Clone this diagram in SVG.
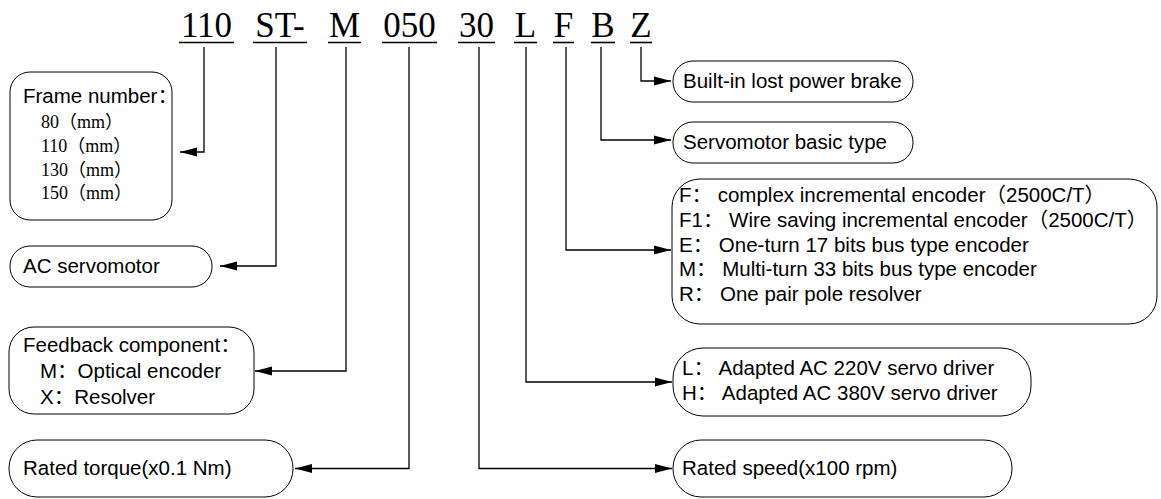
<svg xmlns="http://www.w3.org/2000/svg" width="1161" height="499" viewBox="0 0 1161 499">
<style>
.sans{font-family:"Liberation Sans","Noto Sans CJK SC",sans-serif;font-size:20.5px;fill:#000}
.ser{font-family:"Liberation Serif","Noto Sans CJK SC",serif;font-size:18px;fill:#000}
.code{font-family:"Liberation Serif",serif;font-size:35px;fill:#000;text-anchor:middle}
.box{fill:#fff;stroke:#000;stroke-width:1}
.conn{fill:none;stroke:#000;stroke-width:1.3}
.ul{stroke:#000;stroke-width:1.6}
</style>
<defs>
<marker id="arr" markerUnits="userSpaceOnUse" markerWidth="17" markerHeight="10" viewBox="0 0 17 10" refX="17" refY="5" orient="auto">
<path d="M0,0.5 L17,5 L0,9.5 z" fill="#000"/>
</marker>
</defs>
<rect width="1161" height="499" fill="#fff"/>

<g id="code">
<g id="seg-110"><text class="code" x="206.5" y="37">110</text><line class="ul" x1="179" y1="42.5" x2="234" y2="42.5"/></g>
<g id="seg-ST"><text class="code" x="280" y="37">ST-</text><line class="ul" x1="253" y1="42.5" x2="307" y2="42.5"/></g>
<g id="seg-M"><text class="code" x="344.5" y="37">M</text><line class="ul" x1="328" y1="42.5" x2="361" y2="42.5"/></g>
<g id="seg-050"><text class="code" x="409.5" y="37">050</text><line class="ul" x1="382" y1="42.5" x2="437" y2="42.5"/></g>
<g id="seg-30"><text class="code" x="476.5" y="37">30</text><line class="ul" x1="458" y1="42.5" x2="495" y2="42.5"/></g>
<g id="seg-L"><text class="code" x="525.5" y="37">L</text><line class="ul" x1="514" y1="42.5" x2="537" y2="42.5"/></g>
<g id="seg-F"><text class="code" x="563.5" y="37">F</text><line class="ul" x1="553" y1="42.5" x2="574" y2="42.5"/></g>
<g id="seg-B"><text class="code" x="603" y="37">B</text><line class="ul" x1="591" y1="42.5" x2="615" y2="42.5"/></g>
<g id="seg-Z"><text class="code" x="641" y="37">Z</text><line class="ul" x1="630" y1="42.5" x2="652" y2="42.5"/></g>
</g>

<g id="connectors">
<path class="conn" d="M204,47 V152 H180" marker-end="url(#arr)"/>
<path class="conn" d="M276,47 V266 H220" marker-end="url(#arr)"/>
<path class="conn" d="M346,47 V371 H255" marker-end="url(#arr)"/>
<path class="conn" d="M409,47 V468.5 H295" marker-end="url(#arr)"/>
<path class="conn" d="M479,47 V468.5 H672" marker-end="url(#arr)"/>
<path class="conn" d="M526,47 V382 H672" marker-end="url(#arr)"/>
<path class="conn" d="M566,47 V250 H671" marker-end="url(#arr)"/>
<path class="conn" d="M601,47 V140 H671" marker-end="url(#arr)"/>
<path class="conn" d="M641,47 V81 H671" marker-end="url(#arr)"/>
</g>

<g id="frame-number">
<rect class="box" x="10" y="72" width="162" height="148" rx="20"/>
<text class="sans" x="23" y="103">Frame number：</text>
<text class="ser" x="41" y="128">80（mm）</text>
<text class="ser" x="41" y="152">110（mm）</text>
<text class="ser" x="41" y="175.5">130（mm）</text>
<text class="ser" x="41" y="199">150（mm）</text>
</g>

<g id="ac-servomotor">
<rect class="box" x="10" y="246" width="202" height="41" rx="20"/>
<text class="sans" x="23" y="273">AC servomotor</text>
</g>

<g id="feedback">
<rect class="box" x="9" y="327" width="245" height="87" rx="25"/>
<text class="sans" x="23" y="352">Feedback component：</text>
<text class="sans" x="40" y="378">M：Optical encoder</text>
<text class="sans" x="40" y="404">X：Resolver</text>
</g>

<g id="rated-torque">
<rect class="box" x="9" y="440" width="284" height="57" rx="28"/>
<text class="sans" x="23" y="475">Rated torque(x0.1 Nm)</text>
</g>

<g id="brake">
<rect class="box" x="673" y="61" width="240" height="41" rx="20"/>
<text class="sans" x="683" y="88">Built-in lost power brake</text>
</g>

<g id="basic-type">
<rect class="box" x="673" y="122" width="240" height="41" rx="20"/>
<text class="sans" x="683" y="149">Servomotor basic type</text>
</g>

<g id="encoder">
<rect class="box" x="672" y="179" width="485" height="145" rx="28"/>
<text class="sans" x="679" y="202">F： complex incremental encoder（2500C/T）</text>
<text class="sans" x="679" y="227">F1： Wire saving incremental encoder（2500C/T）</text>
<text class="sans" x="679" y="251.5">E： One-turn 17 bits bus type encoder</text>
<text class="sans" x="679" y="276">M：  Multi-turn 33 bits bus type encoder</text>
<text class="sans" x="679" y="301">R： One pair pole resolver</text>
</g>

<g id="driver">
<rect class="box" x="673" y="348" width="358" height="68" rx="30"/>
<text class="sans" x="682" y="375">L： Adapted AC 220V servo driver</text>
<text class="sans" x="682" y="400">H： Adapted AC 380V servo driver</text>
</g>

<g id="rated-speed">
<rect class="box" x="673" y="440" width="339" height="57" rx="28"/>
<text class="sans" x="682" y="475">Rated speed(x100 rpm)</text>
</g>
</svg>
